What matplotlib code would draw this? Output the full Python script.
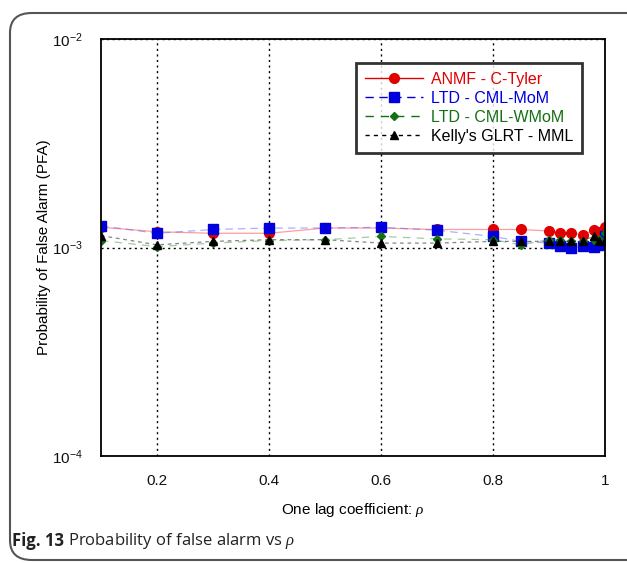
import matplotlib
matplotlib.use('Agg')
import matplotlib.pyplot as plt
from matplotlib.lines import Line2D
from matplotlib.patches import FancyBboxPatch

plt.rcParams['font.family'] = ['Liberation Sans', 'DejaVu Sans']
plt.rcParams['mathtext.fontset'] = 'custom'
plt.rcParams['mathtext.rm'] = 'Liberation Sans'
plt.rcParams['mathtext.it'] = 'Liberation Serif:italic'

# one lag coefficient
rho = [0.1, 0.2, 0.3, 0.4, 0.5, 0.6, 0.7, 0.8, 0.85, 0.9, 0.92, 0.94, 0.96, 0.98, 0.99, 1.0]

# probability of false alarm, per detector
pfa_anmf = [1.25e-3, 1.19e-3, 1.17e-3, 1.17e-3, 1.24e-3, 1.24e-3, 1.22e-3, 1.22e-3,
            1.22e-3, 1.20e-3, 1.18e-3, 1.18e-3, 1.15e-3, 1.21e-3, 1.19e-3, 1.26e-3]
pfa_mom = [1.27e-3, 1.17e-3, 1.22e-3, 1.24e-3, 1.24e-3, 1.25e-3, 1.21e-3, 1.13e-3,
           1.07e-3, 1.05e-3, 1.02e-3, 0.99e-3, 1.02e-3, 1.01e-3, 1.03e-3, 1.14e-3]
pfa_wmom = [1.08e-3, 1.01e-3, 1.05e-3, 1.08e-3, 1.09e-3, 1.13e-3, 1.10e-3, 1.09e-3,
            1.03e-3, 1.09e-3, 1.09e-3, 1.07e-3, 1.07e-3, 1.09e-3, 1.10e-3, 1.17e-3]
pfa_kelly = [1.14e-3, 1.03e-3, 1.07e-3, 1.09e-3, 1.09e-3, 1.05e-3, 1.05e-3, 1.07e-3,
             1.07e-3, 1.07e-3, 1.07e-3, 1.07e-3, 1.08e-3, 1.13e-3, 1.08e-3, 1.08e-3]

labels = ['ANMF - C-Tyler', 'LTD - CML-MoM', 'LTD - CML-WMoM', "Kelly's GLRT - MML"]
colors = ['#e00000', '#0000dd', '#147014', '#000000']
line_colors = [(1, 0.3, 0.3, 0.55), (0.3, 0.3, 1, 0.45), (0.2, 0.55, 0.2, 0.45), (0.2, 0.2, 0.2, 0.6)]
styles = ['-', (0, (6, 4)), (0, (6, 5)), (0, (3, 3))]
markers = ['o', 's', 'D', '^']
msizes = [7, 6.5, 4, 6]

fig = plt.figure(figsize=(6.27, 5.63), dpi=100)

# rounded frame around the figure
frame = FancyBboxPatch((10 / 627, 3 / 563), 1.2, 547 / 563,
                       boxstyle='round,pad=0,rounding_size=0.035',
                       transform=fig.transFigure, fill=False,
                       edgecolor='#555555', linewidth=1.5, clip_on=False)
fig.patches.append(frame)

ax = fig.add_axes([101 / 627, 107 / 563, 504 / 627, 417 / 563])

series = [pfa_anmf, pfa_mom, pfa_wmom, pfa_kelly]
handles = []
for y, c, lc, ls, m, ms, lab in zip(series, colors, line_colors, styles, markers, msizes, labels):
    ax.plot(rho, y, color=lc, linestyle=ls, linewidth=0.9, marker=m,
            markersize=ms, markerfacecolor=c, markeredgecolor=c)
    handles.append(Line2D([], [], color=c, linestyle=ls, linewidth=1.0, marker=m,
                          markersize=ms, markerfacecolor=c, markeredgecolor=c, label=lab))

ax.set_yscale('log')
ax.set_xlim(0.1, 1.0)
ax.set_ylim(1e-4, 1e-2)
ax.set_xticks([0.2, 0.4, 0.6, 0.8, 1.0])
ax.set_xticklabels(['0.2', '0.4', '0.6', '0.8', '1'])
ax.set_yticks([1e-4, 1e-3, 1e-2])
ax.minorticks_off()
ax.tick_params(length=0, labelsize=11, colors='#111111')
ax.tick_params(axis='x', pad=13)
ax.tick_params(axis='y', pad=13)
ax.grid(True, color='black', linestyle=(0, (1.5, 2.5)), linewidth=1.0)
for s in ax.spines.values():
    s.set_linewidth(1.3)

ax.set_xlabel(r'One lag coefficient: $\rho$', fontsize=11, labelpad=9)
ax.set_ylabel('Probability of False Alarm (PFA)', fontsize=11, labelpad=1)

leg = ax.legend(handles=handles, loc='upper right', bbox_to_anchor=(0.954, 0.942),
                borderaxespad=0, fontsize=11.5, frameon=True, fancybox=False,
                handlelength=3.6, labelspacing=0.25, borderpad=0.55, handletextpad=0.5,
                labelcolor='linecolor')
leg.get_frame().set_edgecolor('black')
leg.get_frame().set_linewidth(2)

fig.text(12 / 627, 1 - 541 / 563, 'Fig. 13', fontsize=12, fontweight='bold',
         family=['Open Sans', 'DejaVu Sans'], va='center', color='#222222')
fig.text(68 / 627, 1 - 541 / 563, r'Probability of false alarm vs $\rho$', fontsize=12,
         family=['Open Sans', 'DejaVu Sans'], va='center', color='#222222')

fig.savefig('out.png', dpi=100)
